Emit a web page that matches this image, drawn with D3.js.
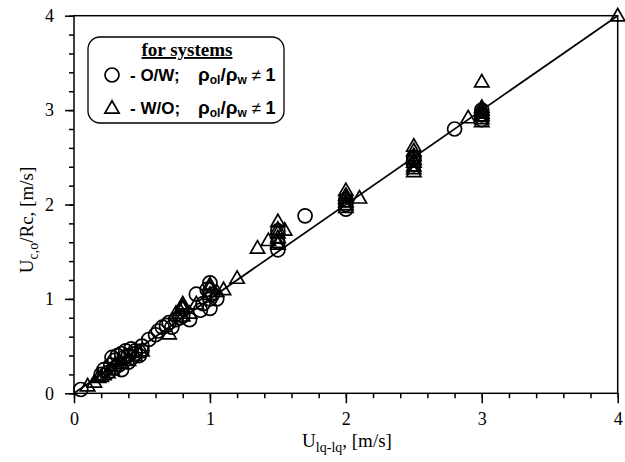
<!DOCTYPE html>
<html>
<head>
<meta charset="utf-8">
<script src="https://cdn.jsdelivr.net/npm/d3@7"></script>
<style>
  body { margin: 0; background: #fff; }
  svg { display: block; }
</style>
</head>
<body>
<svg id="chart" width="625" height="462"></svg>
<script>
// O/W systems (circles)
const owX = [0.05, 0.2, 0.22, 0.25, 0.27, 0.28, 0.3, 0.3, 0.32, 0.33, 0.35, 0.35, 0.37, 0.38, 0.4, 0.4, 0.42, 0.43, 0.45, 0.45, 0.48, 0.5, 0.5,
  0.55, 0.6, 0.62, 0.65, 0.68, 0.7, 0.72, 0.75, 0.78, 0.8, 0.85, 0.9, 0.93, 0.95, 0.98, 1.0, 1.0, 1.0, 1.02, 1.05,
  1.5, 1.5, 1.5, 1.7, 2.0, 2.0, 2.0, 2.5, 2.5, 2.5, 2.8, 3.0, 3.0, 3.0];
const owY = [0.04, 0.2, 0.25, 0.22, 0.3, 0.38, 0.27, 0.35, 0.4, 0.3, 0.42, 0.25, 0.38, 0.45, 0.33, 0.4, 0.47, 0.38, 0.45, 0.42, 0.4, 0.45, 0.5,
  0.57, 0.62, 0.66, 0.7, 0.72, 0.75, 0.7, 0.78, 0.8, 0.82, 0.78, 1.05, 0.88, 0.95, 1.1, 1.17, 1.0, 0.9, 1.05, 1.0,
  1.52, 1.6, 1.72, 1.88, 1.95, 2.0, 2.05, 2.42, 2.5, 2.48, 2.8, 2.9, 2.95, 3.0];

// W/O systems (triangles)
const woX = [0.1, 0.15, 0.18, 0.2, 0.22, 0.25, 0.28, 0.3, 0.35, 0.4, 0.45, 0.5, 0.7, 0.75, 0.78, 0.8, 0.8, 0.8, 0.8, 0.85, 0.9,
  1.0, 1.0, 1.0, 1.05, 1.1, 1.2, 1.35, 1.43, 1.5, 1.5, 1.5, 1.5, 1.5, 1.5, 1.55,
  2.0, 2.0, 2.0, 2.0, 2.0, 2.0, 2.1, 2.5, 2.5, 2.5, 2.5, 2.5, 2.5, 2.5, 2.5, 2.9, 3.0, 3.0, 3.0, 3.0, 3.0, 3.0, 3.0, 4.0];
const woY = [0.08, 0.12, 0.17, 0.18, 0.2, 0.22, 0.25, 0.3, 0.32, 0.35, 0.4, 0.45, 0.63, 0.85, 0.88, 0.9, 0.92, 0.95, 0.82, 0.85, 0.95,
  1.05, 1.12, 1.15, 1.08, 1.1, 1.22, 1.54, 1.62, 1.82, 1.74, 1.7, 1.65, 1.6, 1.58, 1.73,
  2.15, 2.1, 2.07, 2.03, 2.0, 1.97, 2.07, 2.62, 2.57, 2.52, 2.48, 2.45, 2.41, 2.38, 2.35, 2.92, 3.3, 3.03, 3.0, 2.97, 2.94, 2.91, 2.88, 4.0];

// fitted line y = x
const lineX = [0, 4];
const lineY = [0, 4];

const xTicks = [0, 1, 2, 3, 4];
const yTicks = [0, 1, 2, 3, 4];

const svg = d3.select("#chart");
const serif = "'Liberation Serif', 'Times New Roman', serif";
const sans = "'Liberation Sans', Arial, sans-serif";

const x = d3.scaleLinear().domain([0, 4]).range([74, 617.7]);
const y = d3.scaleLinear().domain([0, 4]).range([393.3, 15.7]);

const minor = d3.range(0, 4.001, 0.2).map(v => +v.toFixed(1));

// minor ticks
svg.append("g")
    .attr("transform", `translate(0,${y(0)})`)
    .call(d3.axisBottom(x).tickValues(minor).tickSize(5).tickFormat(""))
    .call(g => g.select(".domain").remove())
    .selectAll("line").attr("stroke-width", 1.5);
svg.append("g")
    .attr("transform", `translate(${x(0)},0)`)
    .call(d3.axisLeft(y).tickValues(minor).tickSize(5).tickFormat(""))
    .call(g => g.select(".domain").remove())
    .selectAll("line").attr("stroke-width", 1.5);

// major ticks + labels
const xAxis = svg.append("g")
    .attr("transform", `translate(0,${y(0)})`)
    .call(d3.axisBottom(x).tickValues(xTicks).tickSize(10).tickPadding(9).tickFormat(d3.format("d")));
xAxis.select(".domain").remove();
xAxis.selectAll("line").attr("stroke-width", 1.5);
xAxis.selectAll("text").attr("font-family", serif).attr("font-size", 18).attr("fill", "#000");

const yAxis = svg.append("g")
    .attr("transform", `translate(${x(0)},0)`)
    .call(d3.axisLeft(y).tickValues(yTicks).tickSize(9).tickPadding(11).tickFormat(d3.format("d")));
yAxis.select(".domain").remove();
yAxis.selectAll("line").attr("stroke-width", 1.5);
yAxis.selectAll("text").attr("font-family", serif).attr("font-size", 18).attr("fill", "#000");

// frame
svg.append("rect")
    .attr("x", x(0)).attr("y", y(4))
    .attr("width", x(4) - x(0)).attr("height", y(0) - y(4))
    .attr("fill", "none").attr("stroke", "#000").attr("stroke-width", 1.5);

// line
svg.append("path")
    .attr("d", d3.line()(lineX.map((v, i) => [x(v), y(lineY[i])])))
    .attr("stroke", "#000").attr("stroke-width", 1.7).attr("fill", "none");

// markers
const tri = d3.symbol().type(d3.symbolTriangle).size(88);
svg.append("g").selectAll("circle")
    .data(owX.map((v, i) => [v, owY[i]]))
    .join("circle")
      .attr("cx", d => x(d[0]))
      .attr("cy", d => y(d[1]))
      .attr("r", 7)
      .attr("fill", "none")
      .attr("stroke", "#000")
      .attr("stroke-width", 1.7);

svg.append("g").selectAll("path")
    .data(woX.map((v, i) => [v, woY[i]]))
    .join("path")
      .attr("d", tri)
      .attr("transform", d => `translate(${x(d[0])},${y(d[1]) + 1})`)
      .attr("fill", "none")
      .attr("stroke", "#000")
      .attr("stroke-width", 1.7);

// axis titles
const xt = svg.append("text")
    .attr("x", 347).attr("y", 447)
    .attr("text-anchor", "middle")
    .attr("font-family", serif).attr("font-size", 19);
xt.append("tspan").text("U");
xt.append("tspan").attr("font-size", 14).attr("dy", 5).text("lq-lq");
xt.append("tspan").attr("dy", -5).text(", [m/s]");

const yt = svg.append("text")
    .attr("transform", "translate(33,220) rotate(-90)")
    .attr("text-anchor", "middle")
    .attr("font-family", serif).attr("font-size", 19);
yt.append("tspan").text("U");
yt.append("tspan").attr("font-size", 14).attr("dy", 5).text("c,o");
yt.append("tspan").attr("dy", -5).text("/Rc, [m/s]");

// legend
const lg = svg.append("g");
lg.append("rect")
    .attr("x", 88).attr("y", 37).attr("width", 196).attr("height", 86)
    .attr("rx", 12).attr("ry", 12)
    .attr("fill", "#fff").attr("stroke", "#000").attr("stroke-width", 1.3);
lg.append("text")
    .attr("x", 187).attr("y", 56)
    .attr("text-anchor", "middle")
    .attr("font-family", serif).attr("font-size", 19).attr("font-weight", "bold")
    .attr("text-decoration", "underline")
    .text("for systems");

function legendRow(yy, label) {
  const t = lg.append("text")
      .attr("x", 130).attr("y", yy)
      .attr("font-family", sans).attr("font-size", 17).attr("font-weight", "bold");
  t.append("tspan").text(label);
  t.append("tspan").attr("x", 198).attr("font-size", 19).text("ρ");
  t.append("tspan").attr("font-size", 12).attr("dy", 3).text("ol");
  t.append("tspan").attr("font-size", 19).attr("dy", -3).text("/ρ");
  t.append("tspan").attr("font-size", 12).attr("dy", 3).text("w");
  t.append("tspan").attr("font-weight", "normal").attr("dy", -3).text(" ≠ ");
  t.append("tspan").attr("font-size", 18).text("1");
}
lg.append("circle").attr("cx", 112).attr("cy", 75).attr("r", 7)
    .attr("fill", "none").attr("stroke", "#000").attr("stroke-width", 1.7);
legendRow(81, "- O/W;");
lg.append("path").attr("d", tri).attr("transform", "translate(112,109)")
    .attr("fill", "none").attr("stroke", "#000").attr("stroke-width", 1.7);
legendRow(114, "- W/O;");
</script>
</body>
</html>
